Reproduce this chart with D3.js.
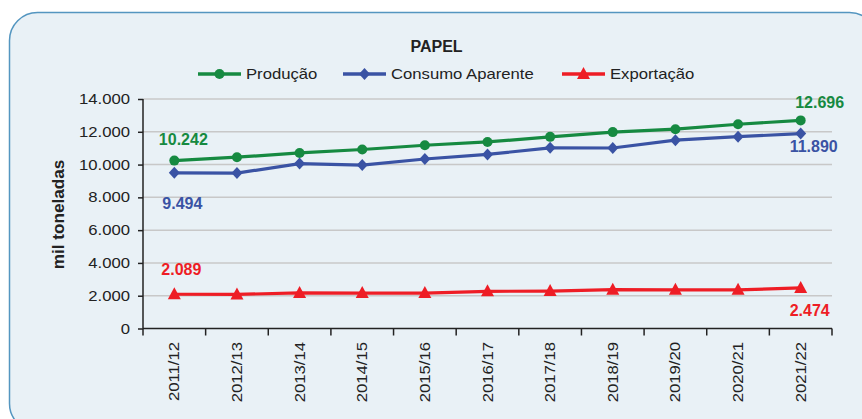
<!DOCTYPE html>
<html>
<head>
<meta charset="utf-8">
<script src="https://cdn.jsdelivr.net/npm/d3@7"></script>
<style>
body { margin: 0; background: #fff; }
svg { display: block; font-family: "Liberation Sans", Arial, sans-serif; }
.grid line { stroke: #c8c8c8; stroke-width: 1.5; }
.axis path, .axis line { stroke: #222; stroke-width: 1.5; }
.axis text { fill: #222; font-size: 14.5px; }
</style>
</head>
<body>
<div id="chart"></div>
<script>
//------------------------------- Data -------------------------------
var safras = ["2011/12","2012/13","2013/14","2014/15","2015/16","2016/17","2017/18","2018/19","2019/20","2020/21","2021/22"];
var producao = [10242, 10450, 10710, 10920, 11180, 11380, 11690, 11980, 12160, 12460, 12696];
var consumo = [9494, 9480, 10060, 9970, 10340, 10620, 11020, 11010, 11490, 11700, 11890];
var exportacao = [2089, 2080, 2170, 2160, 2160, 2270, 2280, 2370, 2360, 2360, 2474];
var yTicks = [0, 2000, 4000, 6000, 8000, 10000, 12000, 14000];

var series = [
	{name: "Produção", values: producao, color: "#168a41", marker: "circle"},
	{name: "Consumo Aparente", values: consumo, color: "#3a53a4", marker: "diamond"},
	{name: "Exportação", values: exportacao, color: "#ee1d25", marker: "triangle"}
];

//------------------------------- SVG -------------------------------
var W = 862, H = 419;
var margin = {top: 99, right: 30, bottom: 91, left: 143};

var svg = d3.select("#chart").append("svg")
	.attr("width", W)
	.attr("height", H);

//The source text is a bit wider than Arial, stretch it horizontally
function stretch(sel, k) {
	sel.each(function() {
		var len = this.getComputedTextLength();
		d3.select(this)
			.attr("textLength", len * k)
			.attr("lengthAdjust", "spacingAndGlyphs");
	});
}

//Panel background
svg.append("rect")
	.attr("x", 9.5).attr("y", 12.5)
	.attr("width", 868).attr("height", 419)
	.attr("rx", 28).attr("ry", 28)
	.style("fill", "#e9f1f6")
	.style("stroke", "#5496c0")
	.style("stroke-width", 1.5);

var g = svg.append("g")
	.attr("transform", "translate(" + margin.left + "," + margin.top + ")");

var width = 832 - margin.left;
var height = 328.5 - margin.top;

//------------------------------- Scales -------------------------------
var x = d3.scaleBand().domain(safras).range([0, width]);
var y = d3.scaleLinear().domain([0, 14000]).range([height, 0]);
var fmt = function(d) { return d3.format(",")(d).replace(/,/g, "."); };

//Gridlines
g.append("g").attr("class", "grid")
	.selectAll("line")
	.data(yTicks.filter(function(d){ return d > 0; }))
	.enter().append("line")
	.attr("x1", 0).attr("x2", width)
	.attr("y1", function(d){ return y(d); })
	.attr("y2", function(d){ return y(d); });

//Y axis
var yAxisG = g.append("g").attr("class", "axis")
	.call(d3.axisLeft(y).tickValues(yTicks).tickSize(5).tickPadding(8).tickFormat(fmt))
	.call(function(a){ a.select(".domain").attr("d", "M0,0V" + height); });
stretch(yAxisG.selectAll("text"), 1.15);

//X axis (ticks at band edges)
var xAxis = g.append("g").attr("class", "axis")
	.attr("transform", "translate(0," + height + ")");
xAxis.append("line").attr("x1", 0).attr("x2", width);
xAxis.selectAll(".xtick")
	.data(d3.range(safras.length + 1))
	.enter().append("line")
	.attr("x1", function(i){ return i * x.step(); })
	.attr("x2", function(i){ return i * x.step(); })
	.attr("y1", 0).attr("y2", 7);
xAxis.selectAll(".xlabel")
	.data(safras)
	.enter().append("text")
	.attr("class", "xlabel")
	.attr("transform", function(d){ return "translate(" + (x(d) + x.bandwidth()/2 + 5) + ",13.5) rotate(-90)"; })
	.style("text-anchor", "end")
	.text(function(d){ return d; });
stretch(xAxis.selectAll(".xlabel"), 1.15);

//Y axis title
svg.append("text")
	.attr("transform", "translate(64,214.5) rotate(-90)")
	.style("text-anchor", "middle")
	.style("font-weight", "bold")
	.style("font-size", "16px")
	.style("fill", "#222")
	.text("mil toneladas")
	.call(stretch, 1.07);

//Title
svg.append("text")
	.attr("x", 436.5).attr("y", 52)
	.style("text-anchor", "middle")
	.style("font-weight", "bold")
	.style("font-size", "16px")
	.style("fill", "#222")
	.text("PAPEL");

//------------------------------- Lines -------------------------------
var line = d3.line()
	.x(function(d, i){ return x(safras[i]) + x.bandwidth()/2; })
	.y(function(d){ return y(d); });

function drawMarker(sel, type, color) {
	if (type === "circle") {
		sel.append("circle").attr("r", 5).style("fill", color);
	} else if (type === "diamond") {
		sel.append("path").attr("d", "M0,-6L5.5,0L0,6L-5.5,0Z").style("fill", color);
	} else {
		sel.append("path").attr("d", "M0,-7L6.5,5L-6.5,5Z").style("fill", color);
	}
}

series.forEach(function(s) {
	g.append("path")
		.datum(s.values)
		.attr("d", line)
		.style("fill", "none")
		.style("stroke", s.color)
		.style("stroke-width", 3.2);

	g.selectAll(".m-" + s.marker)
		.data(s.values)
		.enter().append("g")
		.attr("class", "m-" + s.marker)
		.attr("transform", function(d, i){ return "translate(" + (x(safras[i]) + x.bandwidth()/2) + "," + y(d) + ")"; })
		.each(function(){ drawMarker(d3.select(this), s.marker, s.color); });
});

//Data labels: first and last value of each series
var labelOffsets = [
	{first: [9, -16], last: [19, -12]},
	{first: [8, 36], last: [13, 18]},
	{first: [7, -19], last: [9, 28]}
];
series.forEach(function(s, k) {
	var n = s.values.length;
	[[0, labelOffsets[k].first], [n - 1, labelOffsets[k].last]].forEach(function(p) {
		g.append("text")
			.attr("x", x(safras[p[0]]) + x.bandwidth()/2 + p[1][0])
			.attr("y", y(s.values[p[0]]) + p[1][1])
			.style("text-anchor", "middle")
			.style("font-weight", "bold")
			.style("font-size", "16px")
			.style("fill", s.color)
			.text(fmt(s.values[p[0]]));
	});
});

//------------------------------- Legend -------------------------------
var legendX = [198, 343, 562];
var legend = svg.selectAll(".legendItem")
	.data(series)
	.enter().append("g")
	.attr("class", "legendItem")
	.attr("transform", function(d, i){ return "translate(" + legendX[i] + ",74)"; });
legend.append("line")
	.attr("x1", 0).attr("x2", 43)
	.style("stroke", function(d){ return d.color; })
	.style("stroke-width", 3.5);
legend.each(function(d){
	var m = d3.select(this).append("g").attr("transform", "translate(21.5,0)");
	drawMarker(m, d.marker, d.color);
});
legend.append("text")
	.attr("x", 48).attr("y", 4.5)
	.style("font-size", "14.5px")
	.style("fill", "#222")
	.text(function(d){ return d.name; })
	.call(stretch, 1.15);
</script>
</body>
</html>
